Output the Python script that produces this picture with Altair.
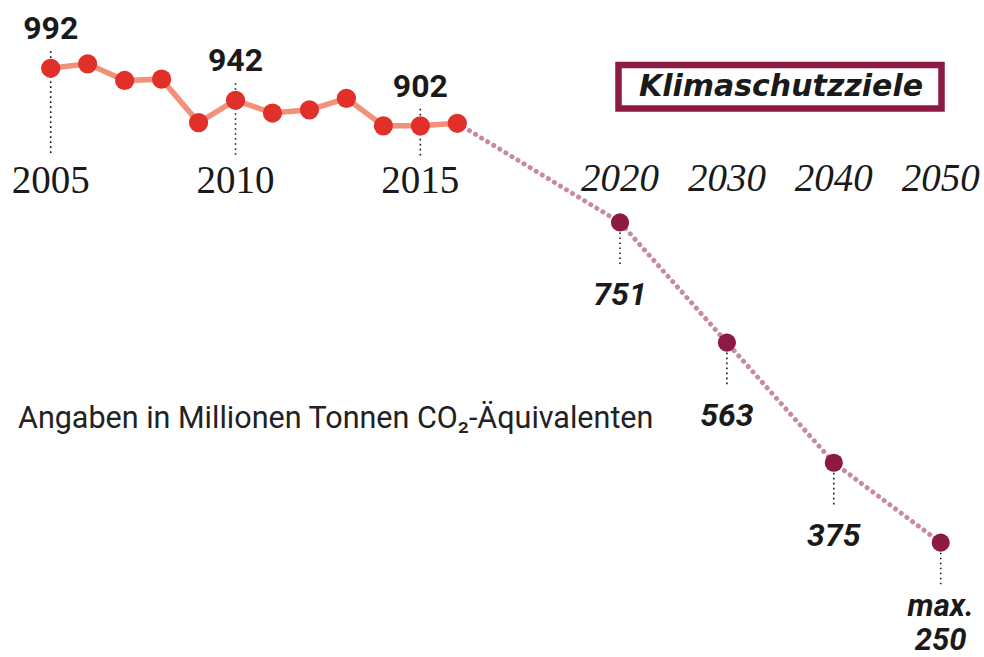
import altair as alt
import pandas as pd

hist_years = [2005, 2006, 2007, 2008, 2009, 2010, 2011, 2012, 2013, 2014, 2015, 2016]
hist_values = [992, 999, 973, 975, 907, 942, 922, 927, 945, 902, 902, 906]
hist_labeled_years = [2005, 2010, 2015]
target_years = [2020, 2030, 2040, 2050]
target_values = [751, 563, 375, 250]
target_prefix = ["", "", "", "max."]
target_labels = ["751", "563", "375", "250"]
title_text = "Klimaschutzziele"
note_text = "Angaben in Millionen Tonnen CO₂-Äquivalenten"

RED = "#e1302a"
SALMON = "#f2907a"
MAROON = "#8c1a44"
MAUVE = "#c98a9e"
INK = "#1a1a1a"

hist = pd.DataFrame({"year": hist_years, "value": hist_values})
hist["label"] = hist["value"].astype(str)
hist["ylabel"] = hist["year"].astype(str)
hist_lab = hist[hist["year"].isin(hist_labeled_years)]
tgt = pd.DataFrame({"year": target_years, "value": target_values,
                    "label": target_labels, "prefix": target_prefix})
tgt["ylabel"] = tgt["year"].astype(str)
link = pd.DataFrame({"year": [hist_years[-1]] + target_years,
                     "value": [hist_values[-1]] + target_values})

xs = alt.Scale(domain=[2005, 2016, 2020, 2050], range=[50.7, 457.3, 620, 940.7],
               zero=False, nice=False)
ys = alt.Scale(domain=[250, 992], range=[542.7, 68.3], zero=False, nice=False)
X = alt.X("year:Q", scale=xs, axis=None)
Y = alt.Y("value:Q", scale=ys, axis=None)

hist_rules = alt.Chart(hist_lab).mark_rule(
    color=INK, strokeWidth=1.6, strokeDash=[1.6, 3.4], yOffset=-17
).encode(x=X, y=Y, y2=alt.value(156))

tgt_rules = alt.Chart(tgt).mark_rule(
    color=INK, strokeWidth=1.6, strokeDash=[1.6, 3.4], y2Offset=44
).encode(x=X, y=Y, y2="value:Q")

hist_line = alt.Chart(hist).mark_line(color=SALMON, strokeWidth=5.5).encode(x=X, y=Y)
link_line = alt.Chart(link).mark_line(
    color=MAUVE, strokeWidth=5, strokeDash=[0.1, 7.0], strokeCap="round"
).encode(x=X, y=Y)

hist_pts = alt.Chart(hist).mark_circle(size=370, color=RED, opacity=1).encode(x=X, y=Y)
tgt_pts = alt.Chart(tgt).mark_circle(size=330, color=MAROON, opacity=1).encode(x=X, y=Y)

hist_vals = alt.Chart(hist_lab).mark_text(
    font="Roboto", fontWeight="bold", fontSize=32, dy=-29, baseline="alphabetic", color=INK
).encode(x=X, y=Y, text="label:N")

tgt_vals = alt.Chart(tgt).transform_filter("datum.prefix == ''").mark_text(
    font="Roboto", fontWeight="bold", fontStyle="italic", fontSize=32, dy=83,
    baseline="alphabetic", color=INK
).encode(x=X, y=Y, text="label:N")

tgt_prefix_txt = alt.Chart(tgt).transform_filter("datum.prefix != ''").mark_text(
    font="Roboto", fontWeight="bold", fontStyle="italic", fontSize=31, dy=73,
    baseline="alphabetic", color=INK
).encode(x=X, y=Y, text="prefix:N")

tgt_vals_last = alt.Chart(tgt).transform_filter("datum.prefix != ''").mark_text(
    font="Roboto", fontWeight="bold", fontStyle="italic", fontSize=31, dy=107,
    baseline="alphabetic", color=INK
).encode(x=X, y=Y, text="label:N")

hist_years_txt = alt.Chart(hist_lab).mark_text(
    font="Liberation Serif", fontSize=39, baseline="alphabetic", color=INK
).encode(x=X, y=alt.value(193), text="ylabel:N")

tgt_years_txt = alt.Chart(tgt).mark_text(
    font="Liberation Serif", fontStyle="italic", fontSize=39, baseline="alphabetic", color=INK
).encode(x=X, y=alt.value(191), text="ylabel:N")

title_df = pd.DataFrame({"t": [title_text]})
box = alt.Chart(title_df).mark_rect(fill="white", stroke=MAROON, strokeWidth=6.5).encode(
    x=alt.value(618.5), x2=alt.value(941.5), y=alt.value(65), y2=alt.value(108.5))
title = alt.Chart(title_df).mark_text(
    font="DejaVu Sans", fontWeight="bold", fontStyle="italic", fontSize=30,
    baseline="alphabetic", align="center", color=INK
).encode(x=alt.value(781), y=alt.value(96), text="t:N")

note = alt.Chart(pd.DataFrame({"t": [note_text]})).mark_text(
    font="Roboto", fontSize=30.5, baseline="alphabetic", align="left", color="#222222"
).encode(x=alt.value(18), y=alt.value(428), text="t:N")

chart = alt.layer(
    hist_rules, tgt_rules, hist_line, link_line, hist_pts, tgt_pts,
    hist_vals, tgt_vals, tgt_prefix_txt, tgt_vals_last, hist_years_txt, tgt_years_txt,
    box, title, note
).properties(
    width=984, height=657,
    autosize=alt.AutoSizeParams(type="none"),
    padding=0,
).configure_view(stroke=None)

chart.save("out.html", embed_options={"renderer": "svg", "actions": False})
